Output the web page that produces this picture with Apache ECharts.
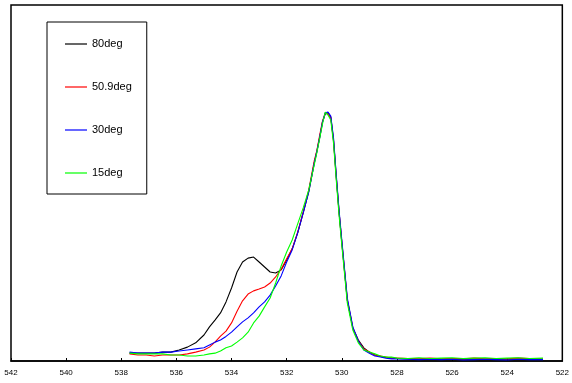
<!DOCTYPE html>
<html>
<head>
<meta charset="utf-8">
<script src="https://cdn.jsdelivr.net/npm/echarts@6/dist/echarts.min.js"></script>
<style>
html,body{margin:0;padding:0;background:#fff;}
#chart{width:572px;height:383px;}
</style>
</head>
<body>
<div id="chart"></div>
<script>
// Binding energy (eV)
var energies = [537.7,537.4,537.1,536.8,536.5,536.2,535.9,535.6,535.3,535.0,
  534.8,534.6,534.4,534.2,534.0,533.8,533.6,533.4,533.2,533.0,
  532.8,532.6,532.4,532.2,532.0,531.8,531.6,531.4,531.2,531.0,
  530.9,530.8,530.7,530.6,530.5,530.4,530.3,530.2,530.1,530.0,
  529.8,529.6,529.4,529.2,529.0,528.8,528.6,528.4,528.2,528.0,
  527.6,527.2,526.8,526.4,526.0,525.6,525.2,524.8,524.4,524.0,
  523.6,523.2,522.7];

var seriesNames = ['80deg', '50.9deg', '30deg', '15deg'];

var deg80 = [2.2,2.2,2.2,2.2,2.5,2.5,3.1,3.9,5.1,7.3,
  9.6,11.5,13.5,16.6,20.5,25.0,27.8,28.9,29.2,27.8,
  26.4,25.0,24.7,25.6,28.4,31.5,36.0,41.6,47.5,55.6,
  59.0,62.9,67.1,69.4,69.7,68.5,62.1,51.7,41.9,33.4,
  17.1,9.3,5.9,3.7,2.5,1.7,1.3,1.0,0.8,0.7,
  0.6,0.5,0.6,0.5,0.6,0.5,0.6,0.5,0.6,0.5,
  0.6,0.5,0.5];

var deg50_9 = [2.0,1.7,1.7,1.4,1.7,1.7,1.7,2.0,2.5,3.1,
  3.9,5.3,7.0,8.4,10.7,14.0,16.9,18.8,19.7,20.2,
  20.8,21.9,23.6,25.8,28.7,31.5,36.2,41.9,48.0,56.2,
  59.3,63.5,67.4,69.7,69.4,68.3,61.8,51.4,41.9,33.4,
  17.1,9.3,5.6,3.4,2.5,1.7,1.4,1.1,0.8,0.8,
  0.7,0.6,0.8,0.6,0.7,0.6,0.8,0.6,0.7,0.6,
  0.8,0.7,0.6];

var deg30 = [2.5,2.2,2.2,2.2,2.5,2.5,2.8,3.1,3.4,3.7,
  4.5,5.3,5.9,6.9,8.1,9.6,11.0,12.1,13.5,15.2,
  16.6,18.5,21.1,23.9,27.8,31.2,36.0,41.6,47.5,55.6,
  59.0,62.9,67.1,69.7,69.9,68.8,62.6,52.2,42.4,34.0,
  17.7,9.6,5.6,3.1,2.2,1.4,1.1,0.8,0.6,0.6,
  0.5,0.4,0.5,0.4,0.5,0.3,0.4,0.5,0.4,0.3,
  0.5,0.4,0.4];

var deg15 = [2.2,2.0,2.0,2.0,2.0,1.7,1.7,1.4,1.4,1.7,
  2.0,2.2,2.8,3.7,4.2,5.3,6.5,8.1,10.7,12.6,
  15.2,17.7,21.9,26.7,30.6,34.0,38.5,43.0,48.0,55.1,
  58.7,62.6,66.6,69.9,69.1,67.7,61.2,50.8,41.0,32.6,
  16.3,8.7,5.1,3.1,2.5,2.0,1.4,1.1,1.1,0.8,
  0.7,0.9,0.7,0.8,0.9,0.7,0.8,0.9,0.7,0.8,
  0.9,0.7,0.8];

var xTicks = [542,540,538,536,534,532,530,528,526,524,522];

var allValues = [deg80, deg50_9, deg30, deg15];
var colors = ['#000000', '#ff0000', '#0000ff', '#00ff00'];

function pairs(vals) {
  return energies.map(function (e, i) { return [e, vals[i]]; });
}

var chart = echarts.init(document.getElementById('chart'), null, {renderer: 'canvas'});
chart.setOption({
  animation: false,
  backgroundColor: '#ffffff',
  grid: {
    left: 11, right: 5, top: 5, bottom: 22,
    show: true, borderColor: '#000', borderWidth: 1.5,
    backgroundColor: '#fff'
  },
  legend: {
    orient: 'vertical',
    left: 47, top: 22,
    padding: [16, 15, 15, 18],
    icon: 'rect',
    itemWidth: 22, itemHeight: 1.2, itemGap: 31, itemTextGap: 3,
    borderColor: '#000', borderWidth: 1, backgroundColor: '#fff',
    textStyle: {fontFamily: 'Liberation Sans', fontSize: 11, color: '#000', lineHeight: 12},
    data: seriesNames
  },
  xAxis: {
    type: 'value', inverse: true, min: 522, max: 542, interval: 2,
    axisLine: {show: true, onZero: false, lineStyle: {color: '#000', width: 1.5}},
    axisTick: {show: true, inside: true, length: 3, lineStyle: {color: '#000'}},
    axisLabel: {
      margin: 8, fontFamily: 'Liberation Sans', fontSize: 8, color: '#000',
      formatter: function (v) { return xTicks.indexOf(v) >= 0 ? String(v) : ''; }
    },
    splitLine: {show: false}
  },
  yAxis: {
    type: 'value', min: 0, max: 100, show: false, splitLine: {show: false}
  },
  series: allValues.map(function (vals, i) {
    return {
      name: seriesNames[i], type: 'line', symbol: 'none',
      data: pairs(vals),
      lineStyle: {color: colors[i], width: 1.1},
      itemStyle: {color: colors[i]}
    };
  })
});
</script>
</body>
</html>
